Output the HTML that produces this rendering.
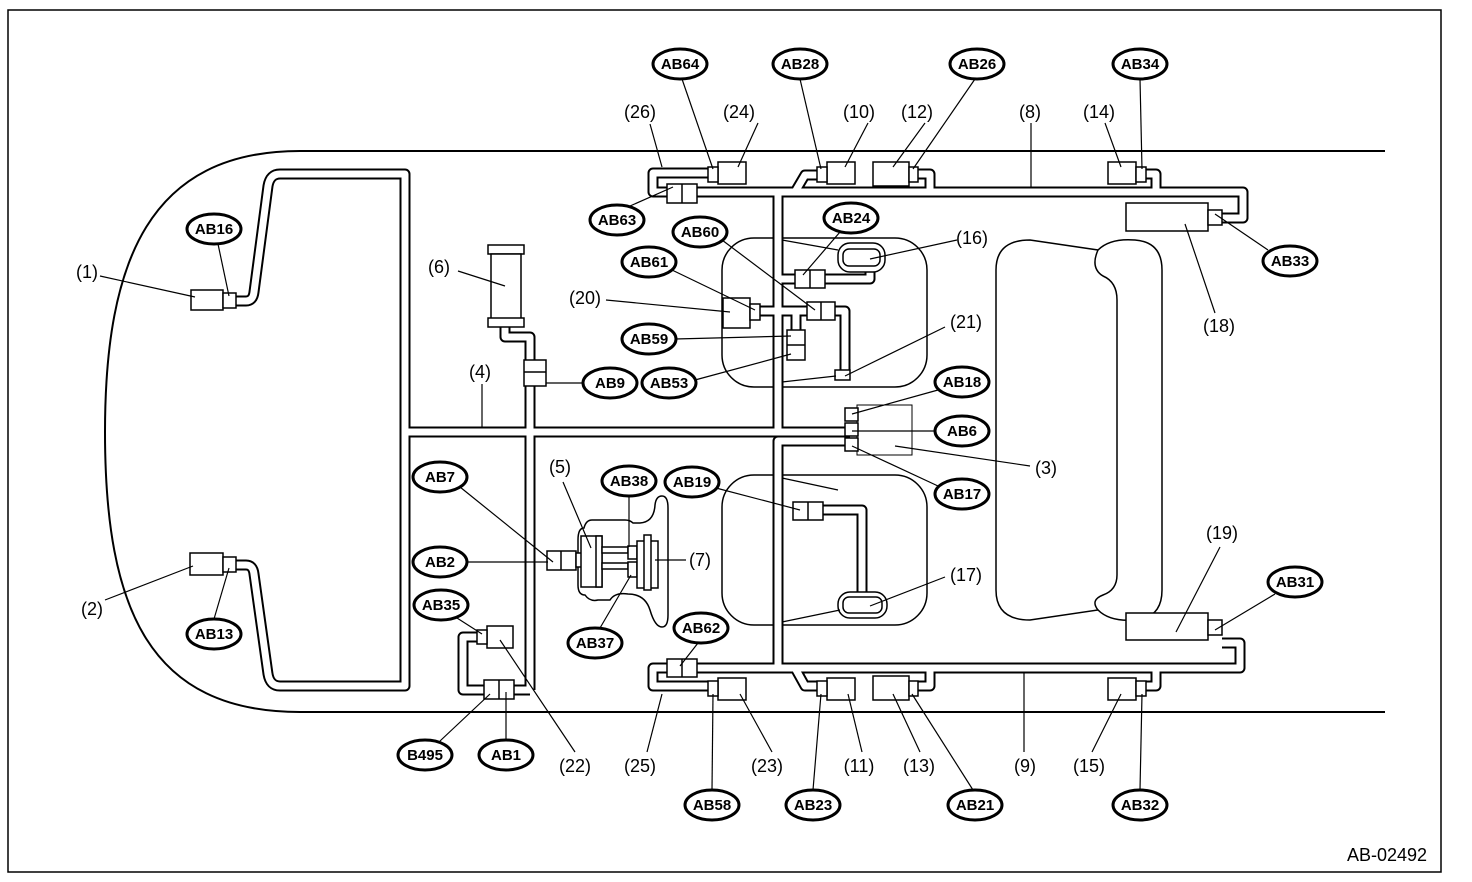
<!DOCTYPE html>
<html><head><meta charset="utf-8"><style>
html,body{margin:0;padding:0;background:#fff;}
svg{display:block;}
.o{font-family:"Liberation Sans",sans-serif;font-weight:bold;font-size:15px;text-anchor:middle;}
.p{font-family:"Liberation Sans",sans-serif;font-size:18px;text-anchor:middle;}
</style></head><body>
<svg width="1472" height="882" viewBox="0 0 1472 882" xmlns="http://www.w3.org/2000/svg">
<defs>
<g id="tubes" fill="none" stroke-linejoin="round">
<path d="M236,301 H246 Q253,301 254,292 L268,186 Q270,174 280,174 H405 V686 H280 Q270,686 268,674 L254,574 Q253,565 246,565 H236"/>
<path d="M405,432 H850"/>
<path d="M505,326 V337 H530 V690"/>
<path d="M477,637 H463 V690 H530"/>
<path d="M708,173 H653 V192 H1243 V218 H1222"/>
<path d="M795,192 L805,175 H817"/>
<path d="M918,174 H930 V192"/>
<path d="M1146,174 H1156 V192"/>
<path d="M778,192 V432 H848"/>
<path d="M848,441 H778 V668"/>
<path d="M708,686 H653 V668 H1240 V643 H1222"/>
<path d="M795,668 L805,686 H817"/>
<path d="M918,686 H930 V668"/>
<path d="M1146,686 H1156 V668"/>
<path d="M778,279 H800"/>
<path d="M825,279 H870 V264"/>
<path d="M760,311 H807"/>
<path d="M835,311 H845 V372"/>
<path d="M796,311 V332"/>
<path d="M823,510 H862 V600"/>
</g>
</defs>
<rect x="8" y="10" width="1433" height="862" fill="#fff" stroke="#000" stroke-width="1.5"/>
<path d="M1385,151 H300 C150,151 105,260 105,432 C105,610 150,712 300,712 H1385" fill="none" stroke="#000" stroke-width="2"/>
<g fill="none" stroke="#000" stroke-width="1.5">
<rect x="722" y="238" width="205" height="149" rx="32"/>
<rect x="722" y="475" width="205" height="150" rx="32"/>
<path d="M1030,240 L1098,250 Q1090,268 1103,276 Q1117,282 1117,300 V575 Q1117,590 1103,595 Q1090,600 1098,610 L1030,620 Q996,620 996,590 V270 Q996,240 1030,240 Z"/>
<path d="M1098,250 Q1110,238 1135,240 Q1162,242 1162,270 V590 Q1162,618 1135,620 Q1110,622 1098,610"/>
<path d="M584,528 Q578,528 578,540 V585 Q578,595 585,595 Q590,602 598,600 H610 Q615,592 628,594 Q645,594 650,610 Q655,627 662,627 Q668,627 668,615 V508 Q668,496 662,496 Q656,496 655,505 Q654,522 640,523 H633 Q630,520 625,520 H592 Q586,520 584,528 Z" fill="#fff"/>
</g>
<use href="#tubes" stroke="#000" stroke-width="11"/>
<use href="#tubes" stroke="#fff" stroke-width="7"/>
<g fill="#fff" stroke="#000" stroke-width="1.5">
<rect x="191" y="290" width="32" height="20"/><rect x="223" y="293" width="13" height="15"/>
<rect x="190" y="553" width="33" height="22"/><rect x="223" y="557" width="13" height="15"/>
<rect x="488" y="245" width="36" height="9"/><rect x="491" y="254" width="30" height="66"/><rect x="488" y="318" width="36" height="9"/>
<rect x="524" y="360" width="22" height="26"/><line x1="524" y1="372" x2="546" y2="372"/>
<rect x="718" y="162" width="28" height="22"/><rect x="708" y="167" width="10" height="15"/>
<rect x="827" y="162" width="28" height="22"/><rect x="817" y="167" width="10" height="15"/>
<rect x="873" y="162" width="36" height="24"/><rect x="909" y="167" width="9" height="15"/>
<rect x="1108" y="162" width="28" height="22"/><rect x="1136" y="167" width="10" height="15"/>
<rect x="667" y="184" width="30" height="19"/><line x1="682" y1="184" x2="682" y2="203"/>
<rect x="1126" y="203" width="82" height="28"/><rect x="1208" y="210" width="14" height="15"/>
<rect x="1126" y="613" width="82" height="27"/><rect x="1208" y="620" width="14" height="15"/>
<rect x="667" y="659" width="30" height="18"/><line x1="682" y1="659" x2="682" y2="677"/>
<rect x="718" y="678" width="28" height="22"/><rect x="708" y="681" width="10" height="15"/>
<rect x="827" y="678" width="28" height="22"/><rect x="817" y="681" width="10" height="15"/>
<rect x="873" y="676" width="36" height="24"/><rect x="909" y="681" width="9" height="15"/>
<rect x="1108" y="678" width="28" height="22"/><rect x="1136" y="681" width="10" height="15"/>
<rect x="487" y="626" width="26" height="22"/><rect x="477" y="630" width="10" height="14"/>
<rect x="484" y="680" width="30" height="19"/><line x1="499" y1="680" x2="499" y2="699"/>
<rect x="857" y="405" width="55" height="50" stroke-width="1"/>
<rect x="845" y="408" width="13" height="13"/><rect x="845" y="423" width="13" height="13"/><rect x="845" y="438" width="13" height="13"/>
<rect x="795" y="270" width="30" height="18"/><line x1="810" y1="270" x2="810" y2="288"/>
<rect x="838" y="243" width="47" height="29" rx="12"/><rect x="843" y="249" width="37" height="17" rx="6"/>
<rect x="723" y="298" width="27" height="30"/><rect x="750" y="304" width="10" height="16"/>
<rect x="807" y="302" width="28" height="18"/><line x1="821" y1="302" x2="821" y2="320"/>
<rect x="787" y="330" width="18" height="30"/><line x1="787" y1="345" x2="805" y2="345"/>
<rect x="835" y="370" width="15" height="10"/>
<rect x="793" y="502" width="30" height="18"/><line x1="808" y1="502" x2="808" y2="520"/>
<rect x="838" y="592" width="49" height="26" rx="12"/><rect x="843" y="597" width="39" height="16" rx="6"/>
<rect x="547" y="551" width="29" height="19"/><line x1="561" y1="551" x2="561" y2="570"/>
<rect x="576" y="553" width="6" height="14"/>
<rect x="581" y="536" width="21" height="51"/><rect x="596" y="536" width="6" height="51"/>
<rect x="602" y="547" width="26" height="6"/><rect x="602" y="563" width="26" height="6"/>
<rect x="628" y="546" width="9" height="13"/><rect x="628" y="562" width="9" height="15"/>
<rect x="637" y="541" width="21" height="47"/><rect x="644" y="535" width="7" height="55"/>
</g>
<g stroke="#000" stroke-width="1.2" fill="none">
<line x1="100" y1="276" x2="195" y2="297"/><line x1="105" y1="600" x2="193" y2="566"/>
<line x1="218" y1="244" x2="229" y2="296"/><line x1="214" y1="619" x2="229" y2="568"/>
<line x1="458" y1="271" x2="505" y2="286"/><line x1="482" y1="384" x2="482" y2="427"/>
<line x1="584" y1="383" x2="546" y2="383"/><line x1="606" y1="300" x2="730" y2="312"/>
<line x1="672" y1="270" x2="755" y2="310"/><line x1="722" y1="240" x2="815" y2="310"/>
<line x1="675" y1="339" x2="791" y2="336"/><line x1="695" y1="380" x2="791" y2="354"/>
<line x1="630" y1="206" x2="673" y2="187"/><line x1="650" y1="124" x2="662" y2="167"/>
<line x1="682" y1="79" x2="713" y2="169"/><line x1="758" y1="123" x2="738" y2="167"/>
<line x1="800" y1="79" x2="821" y2="169"/><line x1="868" y1="123" x2="845" y2="167"/>
<line x1="925" y1="123" x2="893" y2="167"/><line x1="975" y1="79" x2="913" y2="169"/>
<line x1="1031" y1="123" x2="1031" y2="187"/><line x1="1105" y1="123" x2="1121" y2="167"/>
<line x1="1140" y1="79" x2="1142" y2="169"/><line x1="840" y1="232" x2="803" y2="275"/>
<line x1="957" y1="240" x2="870" y2="259"/><line x1="945" y1="327" x2="845" y2="376"/>
<line x1="938" y1="390" x2="852" y2="414"/><line x1="936" y1="431" x2="852" y2="431"/>
<line x1="938" y1="486" x2="852" y2="446"/><line x1="1030" y1="466" x2="895" y2="446"/>
<line x1="1215" y1="313" x2="1185" y2="224"/><line x1="1268" y1="250" x2="1215" y2="214"/>
<line x1="1220" y1="547" x2="1176" y2="632"/><line x1="1275" y1="594" x2="1215" y2="630"/>
<line x1="460" y1="487" x2="553" y2="562"/><line x1="466" y1="562" x2="548" y2="562"/>
<line x1="563" y1="482" x2="591" y2="548"/><line x1="629" y1="496" x2="629" y2="547"/>
<line x1="716" y1="488" x2="800" y2="510"/><line x1="686" y1="560" x2="655" y2="560"/>
<line x1="945" y1="577" x2="870" y2="606"/><line x1="600" y1="628" x2="631" y2="575"/>
<line x1="698" y1="643" x2="680" y2="666"/><line x1="457" y1="618" x2="482" y2="634"/>
<line x1="575" y1="752" x2="500" y2="640"/><line x1="440" y1="741" x2="490" y2="694"/>
<line x1="506" y1="741" x2="506" y2="692"/><line x1="647" y1="752" x2="662" y2="694"/>
<line x1="712" y1="790" x2="713" y2="694"/><line x1="772" y1="752" x2="740" y2="694"/>
<line x1="813" y1="790" x2="821" y2="694"/><line x1="862" y1="752" x2="848" y2="694"/>
<line x1="920" y1="752" x2="893" y2="694"/><line x1="973" y1="790" x2="912" y2="694"/>
<line x1="1024" y1="752" x2="1024" y2="673"/><line x1="1092" y1="752" x2="1121" y2="694"/>
<line x1="1140" y1="790" x2="1142" y2="694"/>
<line x1="782" y1="240" x2="838" y2="250"/><line x1="782" y1="382" x2="836" y2="376"/>
<line x1="782" y1="478" x2="838" y2="490"/><line x1="782" y1="622" x2="840" y2="610"/>
</g>
<g fill="#fff" stroke="#000" stroke-width="3">
<ellipse cx="680" cy="64" rx="27" ry="15"/><ellipse cx="800" cy="64" rx="27" ry="15"/>
<ellipse cx="977" cy="64" rx="27" ry="15"/><ellipse cx="1140" cy="64" rx="27" ry="15"/>
<ellipse cx="214" cy="229" rx="27" ry="15"/><ellipse cx="617" cy="220" rx="27" ry="15"/>
<ellipse cx="700" cy="232" rx="27" ry="15"/><ellipse cx="851" cy="218" rx="27" ry="15"/>
<ellipse cx="1290" cy="261" rx="27" ry="15"/><ellipse cx="649" cy="262" rx="27" ry="15"/>
<ellipse cx="649" cy="339" rx="27" ry="15"/><ellipse cx="669" cy="383" rx="27" ry="15"/>
<ellipse cx="610" cy="383" rx="27" ry="15"/><ellipse cx="962" cy="382" rx="27" ry="15"/>
<ellipse cx="962" cy="431" rx="27" ry="15"/><ellipse cx="962" cy="494" rx="27" ry="15"/>
<ellipse cx="440" cy="477" rx="27" ry="15"/><ellipse cx="629" cy="481" rx="27" ry="15"/>
<ellipse cx="692" cy="482" rx="27" ry="15"/><ellipse cx="440" cy="562" rx="27" ry="15"/>
<ellipse cx="441" cy="605" rx="27" ry="15"/><ellipse cx="595" cy="643" rx="27" ry="15"/>
<ellipse cx="701" cy="628" rx="27" ry="15"/><ellipse cx="214" cy="634" rx="27" ry="15"/>
<ellipse cx="1295" cy="582" rx="27" ry="15"/><ellipse cx="425" cy="755" rx="27" ry="15"/>
<ellipse cx="506" cy="755" rx="27" ry="15"/><ellipse cx="712" cy="805" rx="27" ry="15"/>
<ellipse cx="813" cy="805" rx="27" ry="15"/><ellipse cx="975" cy="805" rx="27" ry="15"/>
<ellipse cx="1140" cy="805" rx="27" ry="15"/>
</g>
<g class="o">
<text x="680" y="69">AB64</text><text x="800" y="69">AB28</text><text x="977" y="69">AB26</text><text x="1140" y="69">AB34</text>
<text x="214" y="234">AB16</text><text x="617" y="225">AB63</text><text x="700" y="237">AB60</text><text x="851" y="223">AB24</text>
<text x="1290" y="266">AB33</text><text x="649" y="267">AB61</text><text x="649" y="344">AB59</text><text x="669" y="388">AB53</text>
<text x="610" y="388">AB9</text><text x="962" y="387">AB18</text><text x="962" y="436">AB6</text><text x="962" y="499">AB17</text>
<text x="440" y="482">AB7</text><text x="629" y="486">AB38</text><text x="692" y="487">AB19</text><text x="440" y="567">AB2</text>
<text x="441" y="610">AB35</text><text x="595" y="648">AB37</text><text x="701" y="633">AB62</text><text x="214" y="639">AB13</text>
<text x="1295" y="587">AB31</text><text x="425" y="760">B495</text><text x="506" y="760">AB1</text><text x="712" y="810">AB58</text>
<text x="813" y="810">AB23</text><text x="975" y="810">AB21</text><text x="1140" y="810">AB32</text>
</g>
<g class="p">
<text x="87" y="278">(1)</text><text x="92" y="615">(2)</text><text x="640" y="118">(26)</text><text x="739" y="118">(24)</text>
<text x="859" y="118">(10)</text><text x="917" y="118">(12)</text><text x="1030" y="118">(8)</text><text x="1099" y="118">(14)</text>
<text x="439" y="273">(6)</text><text x="585" y="304">(20)</text><text x="972" y="244">(16)</text><text x="966" y="328">(21)</text>
<text x="1219" y="332">(18)</text><text x="480" y="378">(4)</text><text x="1046" y="474">(3)</text><text x="560" y="473">(5)</text>
<text x="700" y="566">(7)</text><text x="966" y="581">(17)</text><text x="1222" y="539">(19)</text><text x="575" y="772">(22)</text>
<text x="640" y="772">(25)</text><text x="767" y="772">(23)</text><text x="859" y="772">(11)</text><text x="919" y="772">(13)</text>
<text x="1025" y="772">(9)</text><text x="1089" y="772">(15)</text>
<text x="1387" y="861">AB-02492</text>
</g>
</svg>
</body></html>
